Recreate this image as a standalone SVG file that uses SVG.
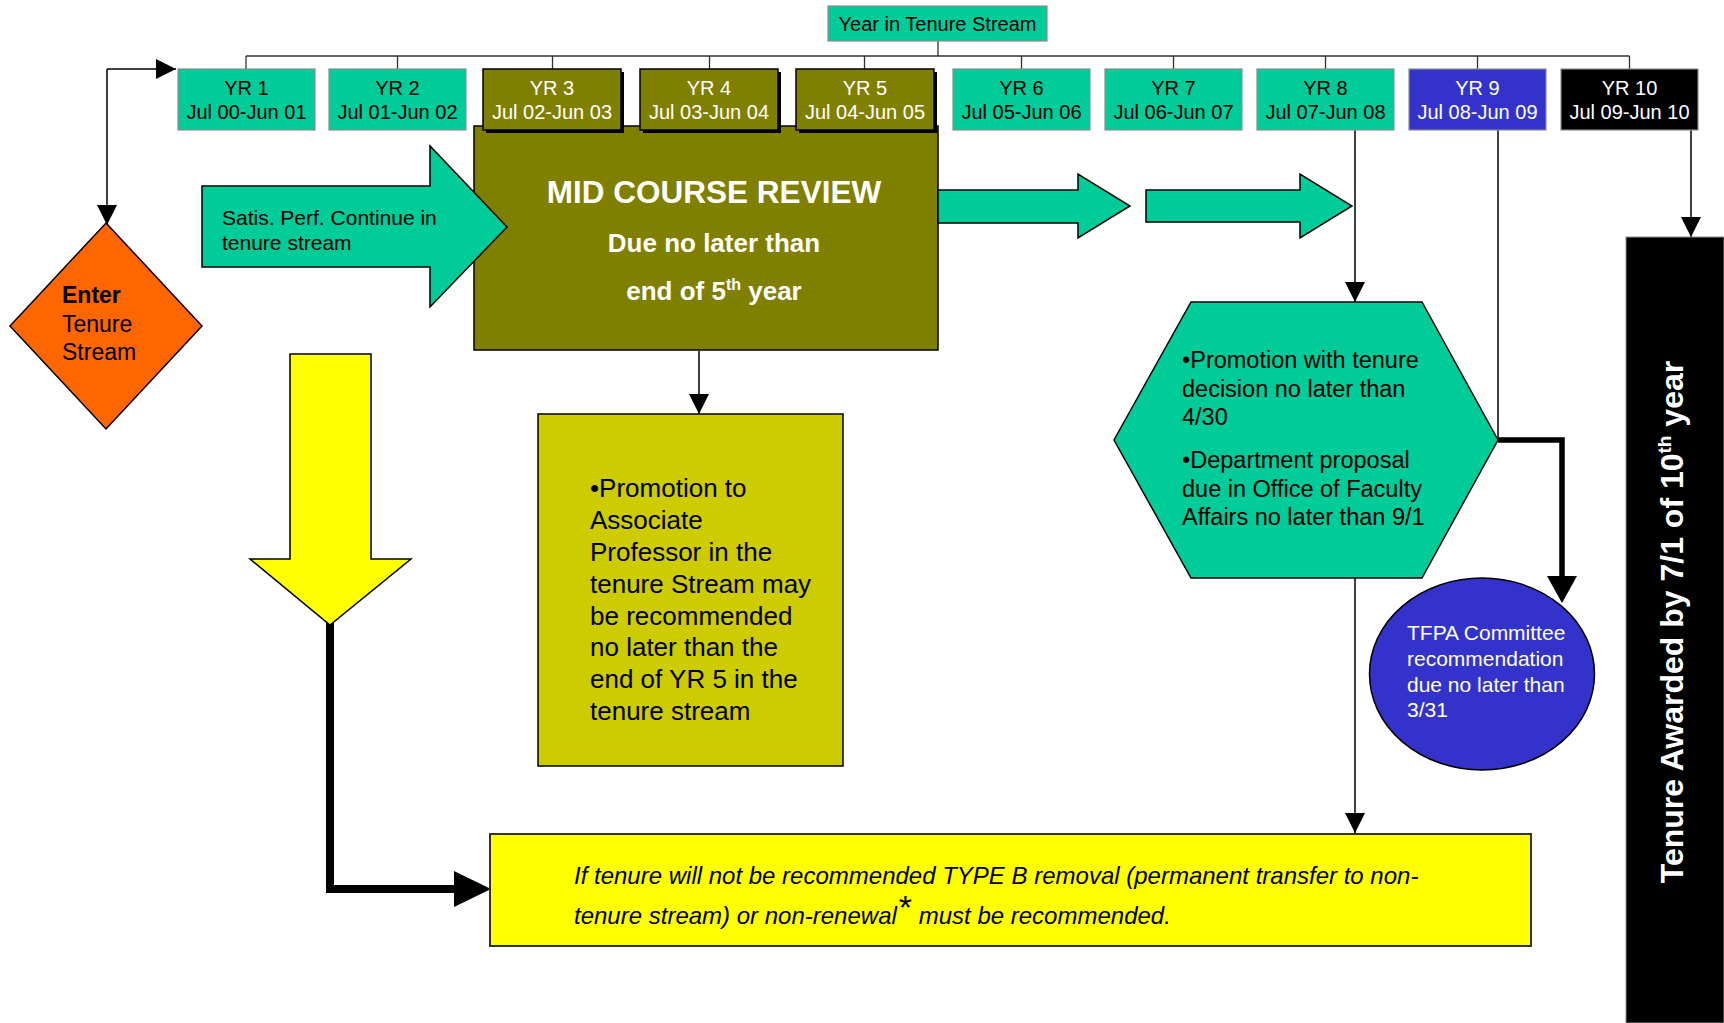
<svg xmlns="http://www.w3.org/2000/svg" width="1724" height="1023" viewBox="0 0 1724 1023">
<defs>
<style>
text{font-family:"Liberation Sans",Arial,Helvetica,sans-serif}
.yr{font-size:20px;text-anchor:middle}
.g{fill:#00CC99;stroke:#8c8c8c;stroke-width:1.2}
.gk{fill:#00CC99;stroke:#000;stroke-width:1.5}
.ol{fill:#808000;stroke:#000;stroke-width:1.5}
.ln{fill:none;stroke:#000;stroke-width:1.5}
.tree{fill:none;stroke:#333;stroke-width:1.3}
.thick{fill:none;stroke:#000;stroke-linejoin:miter}
.w{fill:#fff}
.k{fill:#000}
</style>
<marker id="ah" viewBox="0 0 20 20" refX="20" refY="10" markerWidth="20" markerHeight="20" markerUnits="userSpaceOnUse" orient="auto"><path d="M0,0 L20,10 L0,20 z" fill="#000"/></marker>
</defs>

<g id="connectors">
<path class="tree" d="M938,41 V56 M246,56 H1629.5 M246,56 V69 M397.5,56 V69 M552.5,56 V69 M709.5,56 V69 M864.5,56 V69 M1021.5,56 V69 M1173.5,56 V69 M1325.5,56 V69 M1477.5,56 V69 M1629.5,56 V69"/>
<path class="ln" d="M107,69 H176" marker-end="url(#ah)"/>
<path class="ln" d="M107,69 V225" marker-end="url(#ah)"/>
<path class="ln" d="M699,351 V414" marker-end="url(#ah)"/>
<path class="ln" d="M1355,130 V302" marker-end="url(#ah)"/>
<path class="ln" d="M1498,130 V440"/>
<path class="ln" d="M1355,578 V833" marker-end="url(#ah)"/>
<path class="ln" d="M1691,130 V237" marker-end="url(#ah)"/>
<path class="thick" stroke-width="5.5" d="M1498,440 H1562 V577"/>
<polygon class="k" points="1547,576 1577,576 1562,603"/>
<path class="thick" stroke-width="8" d="M330,622 V889 H455"/>
<polygon class="k" points="454,871 491,889 454,907"/>
</g>

<g id="mid-course-review">
<rect class="ol" x="474" y="126" width="464" height="224"/>
<text x="714" y="203" class="w" font-size="31.5" font-weight="bold" text-anchor="middle">MID COURSE REVIEW</text>
<text x="714" y="252" class="w" font-size="26" font-weight="bold" text-anchor="middle">Due no later than</text>
<text x="714" y="300" class="w" font-size="26" font-weight="bold" text-anchor="middle">end of 5<tspan dy="-10" font-size="16">th</tspan><tspan dy="10"> year</tspan></text>
</g>

<g id="year-header">
<rect class="g" x="828" y="6" width="219" height="35"/>
<text x="937.5" y="31" class="yr">Year in Tenure Stream</text>
</g>

<g id="yr1"><rect class="g" x="178" y="69" width="137" height="61"/><text class="yr" x="246.5" y="95">YR 1</text><text class="yr" x="246.5" y="119">Jul 00-Jun 01</text></g>
<g id="yr2"><rect class="g" x="329" y="69" width="137" height="61"/><text class="yr" x="397.5" y="95">YR 2</text><text class="yr" x="397.5" y="119">Jul 01-Jun 02</text></g>
<g id="yr3"><rect class="k" x="486" y="72" width="138" height="61"/><rect class="ol" x="483" y="69" width="138" height="61"/><text class="yr w" x="552" y="95">YR 3</text><text class="yr w" x="552" y="119">Jul 02-Jun 03</text></g>
<g id="yr4"><rect class="k" x="643" y="72" width="138" height="61"/><rect class="ol" x="640" y="69" width="138" height="61"/><text class="yr w" x="709" y="95">YR 4</text><text class="yr w" x="709" y="119">Jul 03-Jun 04</text></g>
<g id="yr5"><rect class="k" x="799" y="72" width="138" height="61"/><rect class="ol" x="796" y="69" width="138" height="61"/><text class="yr w" x="865" y="95">YR 5</text><text class="yr w" x="865" y="119">Jul 04-Jun 05</text></g>
<g id="yr6"><rect class="g" x="953" y="69" width="137" height="61"/><text class="yr" x="1021.5" y="95">YR 6</text><text class="yr" x="1021.5" y="119">Jul 05-Jun 06</text></g>
<g id="yr7"><rect class="g" x="1105" y="69" width="137" height="61"/><text class="yr" x="1173.5" y="95">YR 7</text><text class="yr" x="1173.5" y="119">Jul 06-Jun 07</text></g>
<g id="yr8"><rect class="g" x="1257" y="69" width="137" height="61"/><text class="yr" x="1325.5" y="95">YR 8</text><text class="yr" x="1325.5" y="119">Jul 07-Jun 08</text></g>
<g id="yr9"><rect x="1409" y="69" width="137" height="61" fill="#3333CC" stroke="#8c8c8c" stroke-width="1.2"/><text class="yr w" x="1477.5" y="95">YR 9</text><text class="yr w" x="1477.5" y="119">Jul 08-Jun 09</text></g>
<g id="yr10"><rect x="1561" y="69" width="137" height="61" fill="#000" stroke="#8c8c8c" stroke-width="1.2"/><text class="yr w" x="1629.5" y="95">YR 10</text><text class="yr w" x="1629.5" y="119">Jul 09-Jun 10</text></g>

<g id="enter-tenure">
<polygon points="106,223 202,326 106,429 10,326" fill="#FF6600" stroke="#000" stroke-width="1.5"/>
<text x="62" y="303" font-size="23" font-weight="bold">Enter</text>
<text x="62" y="332" font-size="23">Tenure</text>
<text x="62" y="360" font-size="23">Stream</text>
</g>

<g id="satis-perf">
<polygon class="gk" points="202,186 430,186 430,146 507,227 430,307 430,267 202,267"/>
<text x="222" y="225" font-size="21">Satis. Perf. Continue in</text>
<text x="222" y="250" font-size="21">tenure stream</text>
</g>

<g id="arrow-yr6">
<polygon class="gk" points="938,190 1078,190 1078,174 1130,206 1078,238 1078,223 938,223"/>
</g>
<g id="arrow-yr7">
<polygon class="gk" points="1146,190 1300,190 1300,174 1352,206 1300,238 1300,222 1146,222"/>
</g>

<g id="yellow-down-arrow">
<polygon points="290,354 371,354 371,559 411,559 330,625 250,559 290,559" fill="#FFFF00" stroke="#000" stroke-width="1.5"/>
</g>

<g id="promotion-associate">
<rect x="538" y="414" width="305" height="352" fill="#CCCC00" stroke="#000" stroke-width="1.5"/>
<text font-size="26">
<tspan x="590" y="497">•Promotion to</tspan>
<tspan x="590" y="529">Associate</tspan>
<tspan x="590" y="561">Professor in the</tspan>
<tspan x="590" y="593">tenure Stream may</tspan>
<tspan x="590" y="625">be recommended</tspan>
<tspan x="590" y="656">no later than the</tspan>
<tspan x="590" y="688">end of YR 5 in the</tspan>
<tspan x="590" y="720">tenure stream</tspan>
</text>
</g>

<g id="promotion-tenure">
<polygon points="1191,302 1422,302 1498,440 1422,578 1191,578 1114,440" fill="#00CC99" stroke="#000" stroke-width="1.5"/>
<text font-size="23.5">
<tspan x="1182" y="368">•Promotion with tenure</tspan>
<tspan x="1182" y="397">decision no later than</tspan>
<tspan x="1182" y="425">4/30</tspan>
<tspan x="1182" y="468">•Department proposal</tspan>
<tspan x="1182" y="497">due in Office of Faculty</tspan>
<tspan x="1182" y="525">Affairs no later than 9/1</tspan>
</text>
</g>

<g id="tfpa">
<ellipse cx="1482" cy="674" rx="112.5" ry="96" fill="#3333CC" stroke="#000" stroke-width="1.5"/>
<text font-size="21" class="w">
<tspan x="1407" y="640">TFPA Committee</tspan>
<tspan x="1407" y="666">recommendation</tspan>
<tspan x="1407" y="692">due no later than</tspan>
<tspan x="1407" y="717">3/31</tspan>
</text>
</g>

<g id="tenure-awarded">
<rect x="1626" y="237" width="98" height="786" fill="#000" stroke="#8c8c8c" stroke-width="1"/>
<text transform="translate(1683,622) rotate(-90)" text-anchor="middle" font-size="32" font-weight="bold" class="w">Tenure Awarded by 7/1 of 10<tspan dy="-12" font-size="19">th</tspan><tspan dy="12"> year</tspan></text>
</g>

<g id="type-b-removal">
<rect x="490" y="834" width="1041" height="112" fill="#FFFF00" stroke="#333" stroke-width="2"/>
<text font-size="24" font-style="italic">
<tspan x="574" y="884">If tenure will not be recommended TYPE B removal (permanent transfer to non-</tspan>
<tspan x="574" y="924">tenure stream) or non-renewal<tspan font-style="normal" font-size="34" dx="2" dy="-5">*</tspan><tspan dy="5"> must be recommended.</tspan></tspan>
</text>
</g>
</svg>
